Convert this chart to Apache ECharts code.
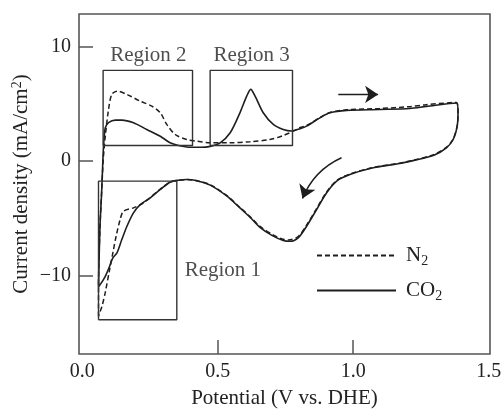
<!DOCTYPE html>
<html>
<head>
<meta charset="utf-8">
<script src="https://cdn.jsdelivr.net/npm/echarts@6/dist/echarts.min.js"></script>
<style>
  html, body { margin: 0; padding: 0; background: #fff; }
  #cv { width: 504px; height: 410px; }
</style>
</head>
<body>
<div id="cv"></div>
<script>
// CO2 loop: anodic sweep then cathodic sweep back to 0.06 V
var co2Anodic = [
  [0.060, -11.0], [0.065, -6.0], [0.071, -3.0], [0.076, 0.0], [0.079, 1.5],
  [0.085, 2.93], [0.097, 3.37], [0.122, 3.6], [0.146, 3.6], [0.189, 3.37],
  [0.238, 2.78], [0.288, 2.19], [0.324, 1.61], [0.355, 1.38], [0.398, 1.22],
  [0.440, 1.22], [0.472, 1.30], [0.509, 1.61], [0.546, 2.49], [0.582, 4.24],
  [0.607, 5.70], [0.622, 6.29], [0.638, 5.70], [0.668, 4.24], [0.705, 3.22],
  [0.742, 2.78], [0.772, 2.65], [0.804, 2.85], [0.828, 3.07], [0.877, 3.80],
  [0.914, 4.24], [0.976, 4.45], [1.098, 4.53], [1.209, 4.62], [1.270, 4.80],
  [1.381, 5.10]
];
var co2Cathodic = [
  [1.387, 4.30], [1.384, 3.10], [1.369, 1.90], [1.344, 1.17], [1.300, 0.55],
  [1.221, 0.05], [1.172, -0.20], [1.074, -0.58], [0.988, -1.17], [0.939, -1.75],
  [0.902, -2.77], [0.865, -4.24], [0.828, -5.70], [0.797, -6.72], [0.767, -7.02],
  [0.742, -6.95], [0.700, -6.50], [0.656, -5.80], [0.619, -4.90], [0.582, -4.10],
  [0.533, -3.05], [0.472, -2.10], [0.420, -1.70], [0.386, -1.61], [0.355, -1.67],
  [0.324, -1.84], [0.288, -2.48], [0.251, -3.21], [0.214, -3.80], [0.189, -4.53],
  [0.165, -5.70], [0.146, -6.87], [0.128, -8.04], [0.113, -8.47], [0.101, -9.21],
  [0.085, -10.09], [0.066, -10.82], [0.060, -11.0]
];
// N2 loop
var n2Anodic = [
  [0.060, -13.6], [0.060, -11.0], [0.065, -6.0], [0.071, -3.0], [0.077, 0.0],
  [0.081, 1.2], [0.085, 2.19], [0.097, 4.53], [0.109, 5.85], [0.128, 6.14],
  [0.165, 5.85], [0.214, 5.26], [0.257, 4.82], [0.288, 4.24], [0.312, 3.22],
  [0.343, 2.34], [0.386, 1.90], [0.423, 1.75], [0.472, 1.61], [0.546, 1.61],
  [0.619, 1.70], [0.693, 1.90], [0.742, 2.25], [0.779, 2.63], [0.804, 2.95],
  [0.828, 3.12], [0.877, 3.82], [0.914, 4.26], [0.976, 4.50], [1.098, 4.62],
  [1.209, 4.78], [1.270, 4.95], [1.381, 5.15]
];
var n2Cathodic = [
  [1.387, 4.30], [1.384, 3.10], [1.369, 1.95], [1.344, 1.22], [1.300, 0.60],
  [1.221, 0.08], [1.172, -0.17], [1.074, -0.55], [0.988, -1.12], [0.939, -1.70],
  [0.902, -2.70], [0.865, -4.15], [0.828, -5.60], [0.797, -6.60], [0.760, -6.90],
  [0.735, -6.80], [0.700, -6.40], [0.656, -5.72], [0.619, -4.85], [0.582, -4.05],
  [0.533, -3.00], [0.472, -2.06], [0.420, -1.70], [0.386, -1.61], [0.355, -1.67],
  [0.324, -1.84], [0.288, -2.45], [0.226, -3.65], [0.189, -4.09], [0.152, -4.39],
  [0.140, -5.11], [0.125, -6.58], [0.113, -8.04], [0.101, -9.50], [0.085, -11.5],
  [0.073, -12.7], [0.064, -13.3], [0.060, -13.6]
];

var regionNames = ['Region 1', 'Region 2', 'Region 3'];
// [xmin, xmax, ymin, ymax]
var regionBoxes = [
  [0.060, 0.349, -13.9, -1.75],
  [0.077, 0.407, 1.38, 7.96],
  [0.472, 0.776, 1.38, 7.96]
];
var regionLabelAt = [[0.519, -9.56], [0.244, 9.27], [0.625, 9.27]];

// sweep direction arrows: [from, to]
var sweepArrows = [
  [[0.945, 5.85], [1.092, 5.85]],
  [[0.957, 0.30], [0.813, -3.27]]
];
var arrowBend = [0, -0.2];

var xTicks = [0, 0.5, 1.0, 1.5];
var yTicks = [-10, 0, 10];

var serif = 'Liberation Serif';
var ink = '#1e1e1e';
var txt = '#222';

function boxPath(b) {
  return [[b[0], b[2]], [b[1], b[2]], [b[1], b[3]], [b[0], b[3]], [b[0], b[2]]];
}

var chart = echarts.init(document.getElementById('cv'));

var series = [
  {
    name: 'N2', type: 'line', data: n2Anodic.concat(n2Cathodic),
    symbol: 'none', smooth: 0.3, animation: false,
    lineStyle: { color: ink, width: 1.5, type: [5, 3] }
  },
  {
    name: 'CO2', type: 'line', data: co2Anodic.concat(co2Cathodic),
    symbol: 'none', smooth: 0.3, animation: false,
    lineStyle: { color: ink, width: 1.6 }
  }
];

regionBoxes.forEach(function (b) {
  series.push({
    type: 'line', data: boxPath(b), symbol: 'none', animation: false,
    lineStyle: { color: '#333', width: 1.4 }, silent: true
  });
});

sweepArrows.forEach(function (a, i) {
  series.push({
    type: 'lines', coordinateSystem: 'cartesian2d', animation: false, silent: true,
    symbol: ['none', 'arrow'], symbolSize: 13,
    lineStyle: { color: ink, width: 1.4, opacity: 1, curveness: arrowBend[i] },
    data: [{ coords: a }]
  });
});

series.push({
  type: 'scatter', symbolSize: 1, animation: false, silent: true,
  itemStyle: { color: 'transparent' },
  data: regionNames.map(function (n, i) { return { name: n, value: regionLabelAt[i] }; }),
  label: {
    show: true, position: 'inside', formatter: '{b}',
    fontFamily: serif, fontSize: 21, color: txt
  }
});

var option = {
  backgroundColor: '#fff',
  animation: false,
  grid: {
    left: 79, right: 14, top: 14, bottom: 56,
    outerBoundsMode: 'none', containLabel: false,
    show: true, borderColor: '#555', borderWidth: 1.6
  },
  legend: {
    orient: 'vertical', left: 316, top: 244, itemGap: 11, padding: 0,
    itemWidth: 79, itemHeight: 14,
    itemStyle: { opacity: 0 },
    data: ['N2', 'CO2'],
    formatter: function (name) {
      return name === 'N2' ? 'N{s|2}' : 'CO{s|2}';
    },
    textStyle: {
      fontFamily: serif, fontSize: 21, color: txt, lineHeight: 23,
      padding: [0, 0, 0, 5],
      rich: { s: { fontFamily: serif, fontSize: 14, padding: [11, 0, 0, 0], color: txt } }
    }
  },
  xAxis: {
    type: 'value', min: -0.012, max: 1.505,
    name: 'Potential (V vs. DHE)', nameLocation: 'middle', nameGap: 34,
    nameTextStyle: { fontFamily: serif, fontSize: 21, color: txt },
    axisLine: { show: false, onZero: false },
    splitLine: { show: false },
    axisTick: { inside: true, length: 14, customValues: [0.5, 1.0], lineStyle: { color: '#555', width: 1.5 } },
    axisLabel: {
      customValues: xTicks, margin: 8,
      fontFamily: serif, fontSize: 20, color: txt,
      formatter: function (v) { return v.toFixed(1); }
    }
  },
  yAxis: {
    type: 'value', min: -16.9, max: 12.9,
    name: 'Current density (mA/cm{p|2})', nameLocation: 'middle', nameGap: 46, nameRotate: 90,
    nameMoveOverlap: false,
    nameTextStyle: {
      fontFamily: serif, fontSize: 21, color: txt,
      rich: { p: { fontFamily: serif, fontSize: 14, padding: [0, 0, 9, 0], color: txt } }
    },
    axisLine: { show: false, onZero: false },
    splitLine: { show: false },
    axisTick: { inside: true, length: 14, customValues: yTicks, lineStyle: { color: '#555', width: 1.5 } },
    axisLabel: {
      customValues: yTicks, margin: 8,
      fontFamily: serif, fontSize: 20, color: txt,
      formatter: function (v) { return v < 0 ? '\u2212' + Math.abs(v) : String(v); }
    }
  },
  series: series
};

chart.setOption(option);
</script>
</body>
</html>
